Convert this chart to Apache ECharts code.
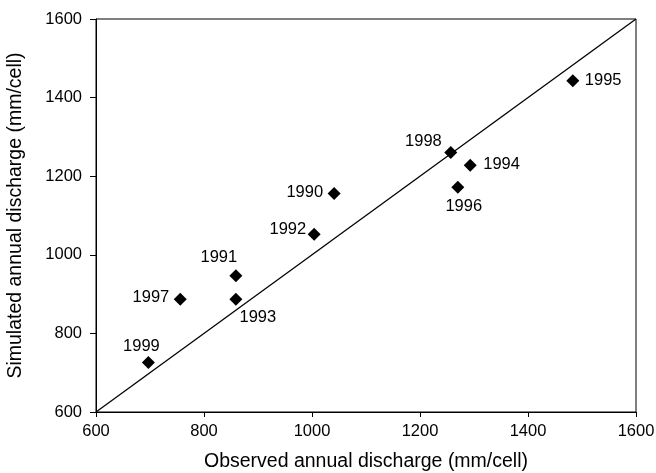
<!DOCTYPE html>
<html>
<head>
<meta charset="utf-8">
<script src="https://cdn.jsdelivr.net/npm/echarts@6/dist/echarts.min.js"></script>
<style>
html,body{margin:0;padding:0;background:#fff;}
#chart{width:656px;height:473px;}
</style>
</head>
<body>
<div id="chart"></div>
<script>
// Data
const years     = ['1990','1991','1992','1993','1994','1995','1996','1997','1998','1999'];
const observed  = [1041, 859, 1004, 859, 1293, 1483, 1270, 756, 1257, 697];
const simulated = [1156, 947, 1052, 887, 1228, 1443, 1172, 887, 1260, 726];
const lineX = [600, 1600];
const lineY = [600, 1600];
const xTicks = [600, 800, 1000, 1200, 1400, 1600];
const yTicks = [600, 800, 1000, 1200, 1400, 1600];

// Label placement (style, kept separate from data): [dx, dy, align]
const labelPlace = {
  '1990': [-11, -1, 'right'],
  '1991': [-17, -18, 'center'],
  '1992': [-8, -5, 'right'],
  '1993': [22, 18, 'center'],
  '1994': [13, -1, 'left'],
  '1995': [12, 0, 'left'],
  '1996': [6, 19, 'center'],
  '1997': [-11, -2, 'right'],
  '1998': [-9, -11, 'right'],
  '1999': [-7, -16, 'center']
};

const FONT = 'Arial, "Liberation Sans", sans-serif';

const pts = years.map((y, i) => {
  const p = labelPlace[y];
  return {
    name: y,
    value: [observed[i], simulated[i]],
    label: { offset: [p[0], p[1]], align: p[2] }
  };
});

const chart = echarts.init(document.getElementById('chart'), null, {renderer: 'canvas'});
chart.setOption({
  animation: false,
  backgroundColor: '#fff',
  grid: { left: 96, top: 19, right: 20, bottom: 61, containLabel: false, outerBoundsMode: 'none',
          show: true, borderColor: '#000', borderWidth: 1, backgroundColor: 'transparent' },
  xAxis: {
    type: 'value', min: xTicks[0], max: xTicks[xTicks.length-1], interval: 200,
    name: 'Observed annual discharge (mm/cell)', nameLocation: 'middle', nameGap: 40,
    nameTextStyle: { fontFamily: FONT, fontSize: 19.5, color: '#000' },
    axisLine: { show: true, onZero: false, lineStyle: { color: '#000', width: 1 } },
    axisTick: { show: true, length: 5, inside: false, lineStyle: { color: '#000', width: 1 } },
    axisLabel: { fontFamily: FONT, fontSize: 16.5, color: '#000', margin: 11, formatter: v => String(v) },
    splitLine: { show: false }
  },
  yAxis: {
    type: 'value', min: yTicks[0], max: yTicks[yTicks.length-1], interval: 200,
    name: 'Simulated annual discharge (mm/cell)', nameLocation: 'middle', nameGap: 70,
    nameTextStyle: { fontFamily: FONT, fontSize: 19.5, color: '#000' },
    axisLine: { show: true, onZero: false, lineStyle: { color: '#000', width: 1 } },
    axisTick: { show: true, length: 6, inside: false, lineStyle: { color: '#000', width: 1 } },
    axisLabel: { fontFamily: FONT, fontSize: 16.5, color: '#000', margin: 14, formatter: v => String(v) },
    splitLine: { show: false }
  },
  series: [
    {
      type: 'line',
      data: lineX.map((x, i) => [x, lineY[i]]),
      showSymbol: false,
      symbol: 'none',
      lineStyle: { color: '#000', width: 1.3 },
      silent: true,
      z: 1
    },
    {
      type: 'scatter',
      data: pts,
      symbol: 'diamond',
      symbolSize: 13,
      itemStyle: { color: '#000', opacity: 1 },
      label: {
        show: true,
        position: 'inside',
        formatter: '{b}',
        fontFamily: FONT,
        fontSize: 16.5,
        color: '#000',
        verticalAlign: 'middle'
      },
      z: 2
    }
  ]
});
</script>
</body>
</html>
